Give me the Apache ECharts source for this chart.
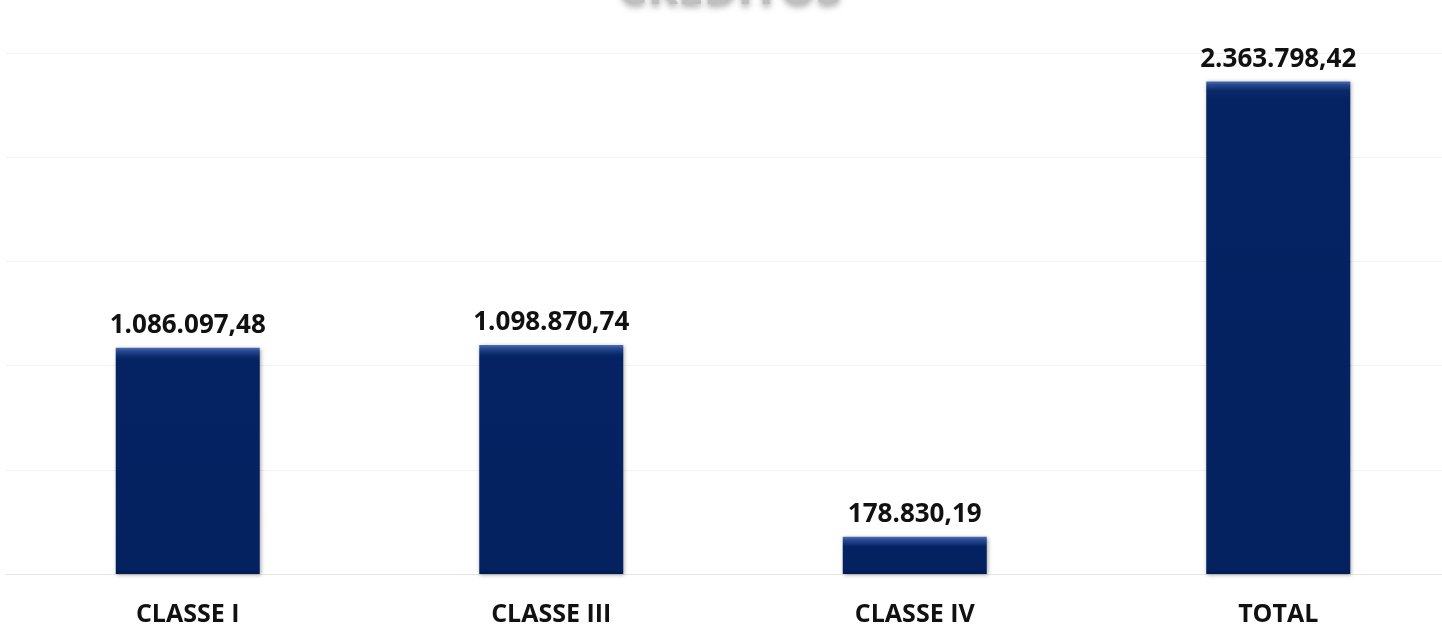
<!DOCTYPE html>
<html>
<head>
<meta charset="utf-8">
<script src="https://cdn.jsdelivr.net/npm/echarts@6/dist/echarts.min.js"></script>
<style>
html,body{margin:0;padding:0;background:#fff;overflow:hidden;width:1442px;height:627px;}
#c{width:1460px;height:627px;}
</style>
</head>
<body>
<div id="c"></div>
<script>
const categories = ['CLASSE I', 'CLASSE III', 'CLASSE IV', 'TOTAL'];
const values = [1086097.48, 1098870.74, 178830.19, 2363798.42];
const valueLabels = ['1.086.097,48', '1.098.870,74', '178.830,19', '2.363.798,42'];
const titleText = 'CRÉDITOS';

const chart = echarts.init(document.getElementById('c'));
const FONT = '"Open Sans", "Liberation Sans", sans-serif';

function barData(heights) {
  return values.map((v, i) => {
    const h = heights ? heights[i] : 100;
    const s = Math.min(0.45, 9 / h);
    return {
      value: v,
      itemStyle: {
        color: {
          type: 'linear', x: 0, y: 0, x2: 0, y2: 1,
          colorStops: [
            {offset: 0, color: '#4a6fb5'},
            {offset: s * 0.35, color: '#2a4b92'},
            {offset: s, color: '#0a2a6a'},
            {offset: Math.min(0.99, s + 0.02), color: '#052262'},
            {offset: Math.max(s + 0.03, 1 - s * 0.6), color: '#042160'},
            {offset: 1, color: '#021a4e'}
          ]
        }
      }
    };
  });
}

const option = {
  backgroundColor: '#ffffff',
  animation: false,
  title: {
    text: titleText,
    left: 'center',
    top: -37,
    textStyle: {
      fontFamily: FONT, fontWeight: 'bold', fontSize: 46, color: '#bfbfbf',
      textShadowColor: 'rgba(0,0,0,0.35)', textShadowBlur: 6, textShadowOffsetY: 3
    }
  },
  grid: { left: 6, right: 0, top: 53, bottom: 51, containLabel: false },
  xAxis: {
    type: 'category',
    data: categories,
    axisLine: { show: true, lineStyle: { color: '#e6e6e6', width: 1 } },
    axisTick: { show: false },
    axisLabel: {
      margin: 28, color: '#111', fontFamily: FONT, fontWeight: 'bold', fontSize: 25
    }
  },
  yAxis: {
    type: 'value',
    min: 0, max: 2500000, interval: 500000,
    axisLabel: { show: false },
    axisLine: { show: false },
    axisTick: { show: false },
    splitLine: { lineStyle: { color: '#f3f3f3', width: 1 } }
  },
  series: [{
    type: 'bar',
    barWidth: 144,
    data: barData(null),
    itemStyle: {
      shadowColor: 'rgba(0,0,0,0.35)', shadowBlur: 4, shadowOffsetX: 1, shadowOffsetY: 1
    },
    label: {
      show: true, position: 'top', distance: 9,
      color: '#111', fontFamily: FONT, fontWeight: 'bold', fontSize: 26,
      formatter: p => valueLabels[p.dataIndex]
    }
  }]
};
chart.setOption(option);
const base = chart.convertToPixel({yAxisIndex: 0}, 0);
const heights = values.map(v => base - chart.convertToPixel({yAxisIndex: 0}, v));
chart.setOption({ series: [{ data: barData(heights) }] });
</script>
</body>
</html>
